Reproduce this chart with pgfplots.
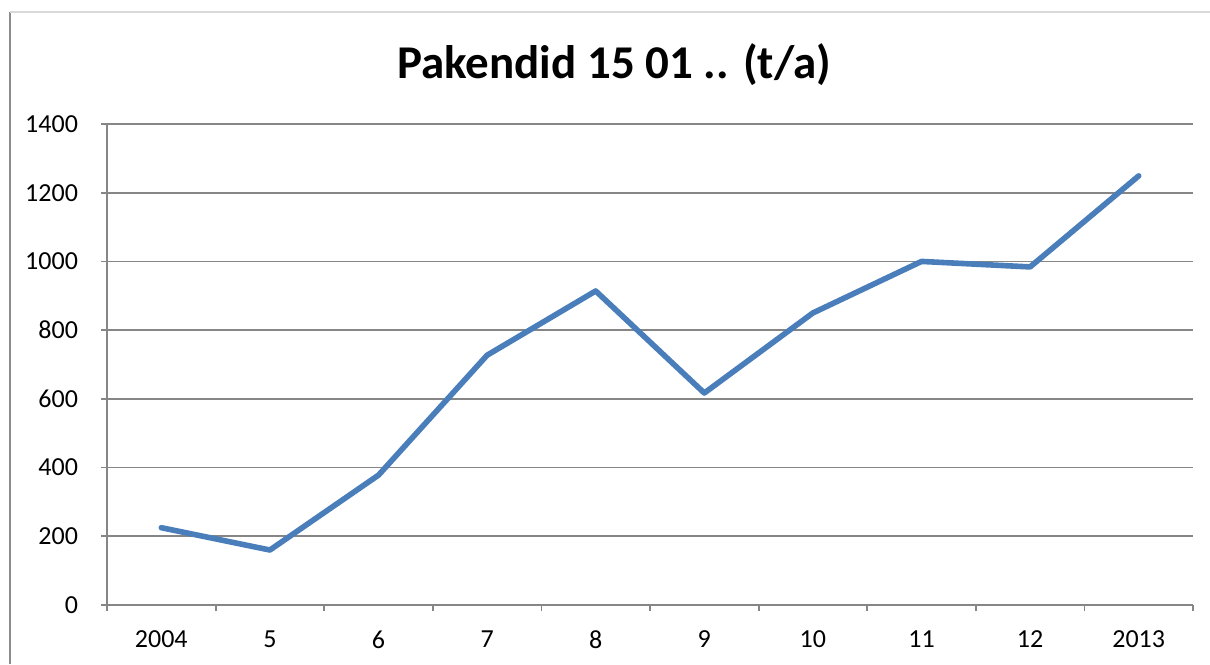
\documentclass[border=0pt]{standalone}
\usepackage{fontspec}
\setmainfont{Carlito}
\usepackage{pgfplots}
\pgfplotsset{compat=1.18}
\definecolor{lineblue}{HTML}{4A7EBB}
\definecolor{gridgray}{HTML}{868686}
\begin{document}
\begin{tikzpicture}
\path[use as bounding box] (0,0) rectangle (605pt,332pt);
\draw[line width=0.9pt, draw=gray!90] (5pt,0) -- (5pt,326pt);
\draw[line width=0.6pt, draw=black!15] (5pt,326pt) -- (605pt,326pt);
\node[font=\fontsize{23.5}{28}\selectfont\bfseries] at (307pt,299.5pt) {Pakendid 15 01 .. (t/a)};
\begin{axis}[
  at={(53.5pt,29.5pt)}, anchor=south west,
  scale only axis, width=543pt, height=240.5pt,
  xmin=-0.5, xmax=9.5, ymin=0, ymax=1400,
  ytick={0,200,...,1400},
  xtick={0,...,9},
  xticklabels={2004,5,6,7,8,9,10,11,12,2013},
  minor xtick={-0.5,0.5,...,9.5},
  major x tick style={draw=none},
  minor x tick style={draw=gridgray, line width=0.9pt},
  minor tick length=3pt,
  major tick length=3pt,
  y tick style={draw=gridgray, line width=0.9pt},
  tick align=outside,
  axis x line*=bottom, axis y line*=left,
  axis line style={draw=gridgray, line width=0.9pt, -},
  ymajorgrids, grid style={draw=gridgray, line width=0.9pt},
  /pgf/number format/assume math mode=true,
  /pgf/number format/1000 sep={},
  tick label style={font=\fontsize{13}{15}\selectfont},
  yticklabel style={xshift=-8pt},
  xticklabel style={yshift=-6.5pt},
  clip=false,
]
\addplot[lineblue, line width=2.8pt, line cap=round, line join=round] coordinates {
(0,225) (1,160) (2,378) (3,727) (4,914) (5,617) (6,850) (7,1000) (8,984) (9,1249)
};
\end{axis}
\end{tikzpicture}
\end{document}
